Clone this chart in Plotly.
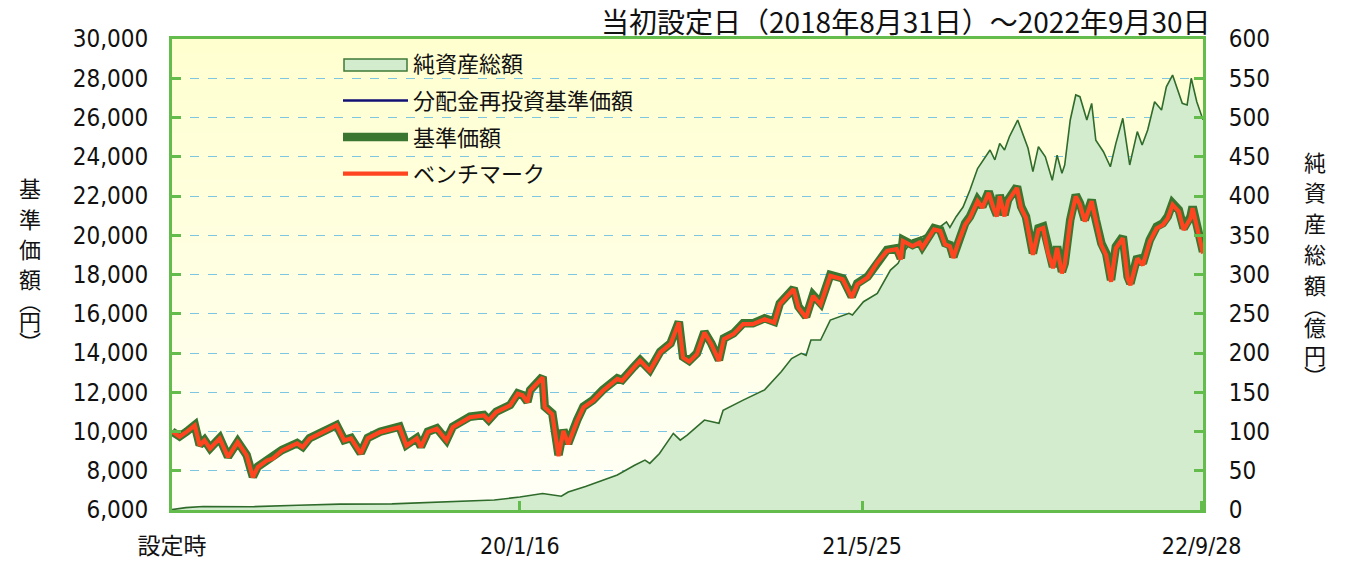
import plotly.graph_objects as go

# ---------------- data ----------------
nav_dates = [
    "2018-08-31", "2018-09-11", "2018-09-21", "2018-10-03", "2018-10-10", "2018-10-17", "2018-10-25",
    "2018-11-08", "2018-11-20", "2018-12-04", "2018-12-17", "2018-12-26",
    "2019-01-02", "2019-01-15", "2019-01-24", "2019-02-06", "2019-02-28", "2019-03-08", "2019-03-18",
    "2019-04-05", "2019-04-26", "2019-05-07", "2019-05-17", "2019-05-31", "2019-06-10", "2019-06-28",
    "2019-07-26", "2019-08-05", "2019-08-20", "2019-08-26", "2019-09-05", "2019-09-18", "2019-10-02",
    "2019-10-11", "2019-10-25", "2019-11-05", "2019-11-25", "2019-12-02", "2019-12-13",
    "2020-01-02", "2020-01-13", "2020-01-20", "2020-01-27", "2020-01-31", "2020-02-18", "2020-02-21",
    "2020-03-03", "2020-03-12", "2020-03-19", "2020-03-26", "2020-04-08", "2020-04-17", "2020-05-01",
    "2020-05-15", "2020-06-05", "2020-06-12", "2020-06-29", "2020-07-08", "2020-07-22", "2020-08-06",
    "2020-08-21", "2020-09-02", "2020-09-08", "2020-09-17", "2020-09-28", "2020-10-09", "2020-10-19",
    "2020-10-30", "2020-11-06", "2020-11-20", "2020-12-04", "2020-12-18",
    "2021-01-04", "2021-01-18", "2021-01-26", "2021-02-08", "2021-02-15", "2021-02-22", "2021-03-05",
    "2021-03-15", "2021-03-26", "2021-04-09", "2021-04-27", "2021-05-10", "2021-05-18", "2021-06-02",
    "2021-06-16", "2021-06-30", "2021-07-14", "2021-07-20", "2021-07-23", "2021-08-06", "2021-08-16",
    "2021-08-20", "2021-09-06", "2021-09-15", "2021-09-22", "2021-09-29", "2021-10-04", "2021-10-11",
    "2021-10-21", "2021-10-28", "2021-11-08", "2021-11-15", "2021-11-24", "2021-12-01", "2021-12-06",
    "2021-12-10", "2021-12-17", "2021-12-22",
    "2022-01-04", "2022-01-10", "2022-01-17", "2022-01-27", "2022-02-04", "2022-02-11", "2022-02-18",
    "2022-02-25", "2022-03-03", "2022-03-10", "2022-03-14", "2022-03-22", "2022-03-30", "2022-04-05",
    "2022-04-12", "2022-04-22", "2022-04-28", "2022-05-06", "2022-05-13", "2022-05-20", "2022-05-27",
    "2022-06-06", "2022-06-13", "2022-06-17", "2022-06-27", "2022-07-05", "2022-07-15", "2022-07-25",
    "2022-08-03", "2022-08-10", "2022-08-17", "2022-08-26", "2022-09-02", "2022-09-12", "2022-09-15",
    "2022-09-21", "2022-09-28", "2022-09-30",
]

# 基準価額 (円)
nav_values = [
    10000, 9750, 9990, 10330, 9310, 9565, 9150, 9670, 8715, 9480, 8800, 7695,
    8205, 8545, 8650, 9055, 9410, 9225, 9665, 9990, 10330, 9565, 9670, 8900, 9670, 9990,
    10245, 9310, 9670, 9225, 9990, 10160, 9565, 10245, 10500, 10755, 10840, 10585, 11010,
    11350, 11945, 11860, 11520, 12115, 12790, 11265, 10925, 8800, 10075, 9395, 10585, 11265, 11605,
    12115, 12710, 12620, 13300, 13640, 13130, 14065, 14490, 15590, 13810, 13600, 13980, 15080, 14490,
    13640, 14745, 15000, 15510, 15510,
    15765, 15590, 16530, 17040, 17295, 16360, 15850, 16955, 16530, 17975, 17805, 16870, 17550, 17890,
    18655, 19250, 19335, 18825, 19760, 19505, 19675, 19420, 20355, 20270, 19590, 19500, 18905, 19675,
    20610, 20950, 21800, 21460, 22220, 21460, 21030, 22050, 21030, 21800,
    22475, 21460, 20950, 19080, 20355, 20440, 19160, 18400, 19420, 18145, 18570, 20780, 22050, 21630,
    20780, 21800, 20780, 19590, 19080, 17720, 19420, 19930, 17890, 17550, 18905, 18570, 19760, 20440,
    20610, 20950, 21630, 21290, 20355, 20950, 21460, 20440, 19250, 19160,
]

# 分配金再投資基準価額 (円) — no distributions, coincides with 基準価額
reinvest_values = list(nav_values)

# ベンチマーク
bench_values = [
    10000, 9740, 9980, 10310, 9290, 9550, 9130, 9650, 8690, 9460, 8780, 7660,
    8180, 8520, 8630, 9030, 9390, 9200, 9640, 9970, 10310, 9540, 9650, 8870, 9650, 9970,
    10220, 9280, 9650, 9200, 9970, 10140, 9540, 10220, 10480, 10730, 10820, 10560, 10990,
    11330, 11920, 11840, 11490, 12090, 12760, 11230, 10880, 8740, 10030, 9350, 10550, 11230, 11570,
    12080, 12680, 12590, 13270, 13610, 13090, 14030, 14460, 15550, 13770, 13560, 13940, 15040, 14450,
    13600, 14700, 14960, 15470, 15470,
    15720, 15550, 16490, 17000, 17250, 16310, 15800, 16910, 16480, 17930, 17760, 16820, 17500, 17850,
    18610, 19200, 19290, 18770, 19710, 19450, 19630, 19370, 20300, 20220, 19530, 19440, 18840, 19620,
    20550, 20890, 21740, 21400, 22160, 21390, 20960, 21990, 20960, 21740,
    22410, 21390, 20880, 19000, 20280, 20370, 19080, 18320, 19350, 18060, 18490, 20710, 21980, 21560,
    20700, 21730, 20700, 19500, 18990, 17630, 19340, 19850, 17800, 17460, 18820, 18480, 19680, 20360,
    20530, 20870, 21560, 21210, 20270, 20870, 21380, 20350, 19160, 19070,
]

na_dates = [
    "2018-08-31", "2018-09-20", "2018-10-15", "2018-12-26",
    "2019-03-01", "2019-05-01", "2019-07-15", "2019-09-15", "2019-10-25", "2019-12-10",
    "2020-01-16", "2020-02-18", "2020-03-16", "2020-03-26", "2020-04-20", "2020-05-08", "2020-06-05",
    "2020-06-30", "2020-07-15", "2020-07-22", "2020-08-05", "2020-08-25", "2020-09-04", "2020-09-14",
    "2020-10-09", "2020-10-30", "2020-11-05", "2020-12-04",
    "2021-01-04", "2021-01-28", "2021-02-12", "2021-02-26", "2021-03-05", "2021-03-12", "2021-03-26",
    "2021-04-09", "2021-05-06", "2021-05-11", "2021-05-27", "2021-06-16", "2021-07-05", "2021-07-16",
    "2021-07-23", "2021-08-06", "2021-08-20", "2021-09-09", "2021-09-24", "2021-09-29", "2021-10-08",
    "2021-10-18", "2021-10-28", "2021-11-08", "2021-11-16", "2021-11-26", "2021-12-03", "2021-12-10",
    "2021-12-17", "2021-12-24",
    "2022-01-05", "2022-01-11", "2022-01-20", "2022-01-27", "2022-02-04", "2022-02-14", "2022-02-24",
    "2022-03-03", "2022-03-10", "2022-03-14", "2022-03-22", "2022-03-30", "2022-04-05", "2022-04-15",
    "2022-04-22", "2022-04-28", "2022-05-09", "2022-05-19", "2022-05-27", "2022-06-06", "2022-06-16",
    "2022-06-27", "2022-07-04", "2022-07-12", "2022-07-22", "2022-08-01", "2022-08-08", "2022-08-17",
    "2022-08-26", "2022-08-31", "2022-09-07", "2022-09-13", "2022-09-21", "2022-09-30",
]

# 純資産総額 (億円)
na_values = [
    0.5, 3, 4.5, 4.2,
    6, 7.5, 7.8, 9.5, 10.6, 12.7,
    16.5, 21, 17.5, 23, 30, 36, 44.5, 57, 63.6, 59.4, 72, 97.6, 89, 95.5, 114.6, 110.4, 127, 140,
    153, 176, 193, 199.6, 197, 216.5, 216.5, 242, 250.5, 248.5, 265.3, 276, 305.7, 314.2, 327, 344,
    348, 356.7, 367, 360, 373.6, 386, 407.6, 435, 446, 458.6, 446, 467, 458.6, 475.5,
    496.8, 482, 460.8, 431, 462.8, 450, 420, 452, 429, 439.5, 496.8, 528.7, 526.5, 496.8, 518, 471,
    456.4, 437.3, 467, 499, 439.5, 482, 465, 484, 520, 509.5, 539, 554, 531, 518, 516, 550, 520, 497,
]

x_tick_dates = ["2018-08-31", "2020-01-16", "2021-05-25", "2022-09-28"]
x_tick_text = ["設定時", "20/1/16", "21/5/25", "22/9/28"]
left_ticks = list(range(6000, 30001, 2000))
right_ticks = list(range(0, 601, 50))

title_text = "当初設定日（2018年8月31日）～2022年9月30日"
left_title_chars = ["基", "準", "価", "額", "︵", "円", "︶"]
right_title_chars = ["純", "資", "産", "総", "額", "︵", "億", "円", "︶"]

# ---------------- style ----------------
# page offset of the figure (browser body margin) is 8px on each side
OFF = 8
W, H = 1351 - 2 * OFF, 568 - 2 * OFF
L, R, T, B = 172, 1203, 39, 510          # plot area in page pixels
GREEN_AXIS = "#63BC4C"
GRID = "#7CC6E2"
AREA_FILL = "#D3ECCE"
AREA_LINE = "#2F6B2B"
NUM_FONT = "DejaVu Sans Condensed, DejaVu Sans, Noto Sans CJK JP, sans-serif"
CJK_FONT = "Noto Sans CJK JP, sans-serif"


def px_x(p):
    return (p - L) / (R - L)


def px_y(p):
    return 1 - (p - T) / (B - T)


fig = go.Figure()

# area (legend entry is a separate legend-only item with a boxed swatch)
fig.add_trace(go.Scatter(
    x=na_dates, y=na_values, name="純資産総額", yaxis="y",
    mode="lines", line=dict(color=AREA_LINE, width=1.6),
    fill="tozeroy", fillcolor=AREA_FILL, showlegend=False,
))
fig.add_trace(go.Scatter(
    x=[None], y=[None], name="純資産総額", yaxis="y", mode="lines",
    line=dict(color="rgba(0,0,0,0)", width=0), fill="toself", fillcolor="rgba(0,0,0,0)",
    legendgroup="g1",
))
fig.add_trace(go.Scatter(
    x=nav_dates, y=reinvest_values, name="分配金再投資基準価額", yaxis="y2",
    mode="lines", line=dict(color="#101075", width=2.5), legendgroup="g2",
))
fig.add_trace(go.Scatter(
    x=nav_dates, y=nav_values, name="基準価額", yaxis="y2",
    mode="lines", line=dict(color="#3A7630", width=8.5), legendgroup="g3",
))
fig.add_trace(go.Scatter(
    x=nav_dates, y=bench_values, name="ベンチマーク", yaxis="y2",
    mode="lines", line=dict(color="#FF4520", width=4.2), legendgroup="g4",
))

# background gradient (light yellow to near white)
shapes = []
n = 30
for i in range(n):
    t = i / (n - 1)
    b = int(round(208 + (246 - 208) * t))
    shapes.append(dict(
        type="rect", xref="x domain", yref="y domain",
        x0=0, x1=1, y0=1 - (i + 1) / n, y1=1 - i / n,
        fillcolor=f"rgb(255,255,{b})", line=dict(width=0), layer="below",
    ))
# boxed legend swatch for 純資産総額
shapes.append(dict(
    type="rect", xref="paper", yref="paper",
    x0=px_x(344), x1=px_x(407), y0=px_y(71), y1=px_y(59),
    fillcolor=AREA_FILL, line=dict(color="#3F7A38", width=1.5), layer="above",
))

annotations = [dict(
    text=title_text, xref="paper", yref="paper",
    x=px_x(1213), y=px_y(21), xanchor="right", yanchor="middle",
    showarrow=False, font=dict(family=CJK_FONT, size=28, color="#111111"),
)]
left_y = [187, 218, 248, 278, 300, 320, 341]
for ch, yy in zip(left_title_chars, left_y):
    annotations.append(dict(
        text=ch, xref="paper", yref="paper", x=px_x(30), y=px_y(yy),
        xanchor="center", yanchor="middle", showarrow=False,
        font=dict(family=CJK_FONT, size=22, color="#111111"),
    ))
right_y = [161, 191, 222, 253, 284, 305, 326, 354, 375]
for ch, yy in zip(right_title_chars, right_y):
    annotations.append(dict(
        text=ch, xref="paper", yref="paper", x=px_x(1315), y=px_y(yy),
        xanchor="center", yanchor="middle", showarrow=False,
        font=dict(family=CJK_FONT, size=22, color="#111111"),
    ))

fig.update_layout(
    width=W, height=H,
    margin=dict(l=L - OFF, r=W - (R - OFF), t=T - OFF, b=H - (B - OFF), pad=0, autoexpand=False),
    paper_bgcolor="white",
    plot_bgcolor="#FFFFE8",
    showlegend=True,
    legend=dict(
        x=px_x(338), y=px_y(43), xanchor="left", yanchor="top",
        bgcolor="rgba(0,0,0,0)", borderwidth=0,
        font=dict(family=CJK_FONT, size=22, color="#111111"),
        itemwidth=65, traceorder="grouped", tracegroupgap=5,
    ),
    xaxis=dict(
        type="date", range=["2018-08-31", "2022-09-30"],
        tickvals=x_tick_dates, ticktext=x_tick_text,
        ticks="inside", ticklen=9, tickwidth=3, tickcolor=GREEN_AXIS,
        showline=True, linecolor=GREEN_AXIS, linewidth=3, mirror=True,
        showgrid=False, zeroline=False, automargin=False,
        tickfont=dict(family=NUM_FONT, size=23, color="#111111"),
        ticklabelstandoff=13,
    ),
    yaxis=dict(
        side="right", range=[0, 600], tickvals=right_ticks,
        ticks="inside", ticklen=9, tickwidth=3, tickcolor=GREEN_AXIS,
        showline=True, linecolor=GREEN_AXIS, linewidth=3,
        showgrid=True, gridcolor=GRID, griddash="dash", gridwidth=1,
        zeroline=False, automargin=False,
        tickfont=dict(family=NUM_FONT, size=24, color="#111111"),
        ticklabelstandoff=18,
    ),
    yaxis2=dict(
        side="left", overlaying="y", range=[6000, 30000], tickvals=left_ticks,
        tickformat=",d",
        ticks="inside", ticklen=9, tickwidth=3, tickcolor=GREEN_AXIS,
        showline=True, linecolor=GREEN_AXIS, linewidth=3,
        showgrid=False, zeroline=False, automargin=False,
        tickfont=dict(family=NUM_FONT, size=24, color="#111111"),
        ticklabelstandoff=16,
    ),
    shapes=shapes,
    annotations=annotations,
)

fig.write_html("out.html")
